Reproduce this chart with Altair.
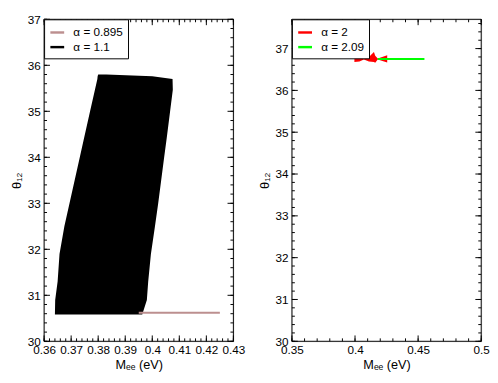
import altair as alt
import pandas as pd

# ---------------- data ----------------
# left panel: black region (alpha = 1.1), given as left/right edge per theta12 level
black_y = [30.58, 30.90, 31.30, 31.90, 32.50, 33.00, 33.50, 34.00, 34.40, 35.00, 35.47, 35.70, 35.76, 35.80]
black_left = [0.3640, 0.3641, 0.3650, 0.3657, 0.3675, 0.3694, 0.3713, 0.3732, 0.3747, 0.3770, 0.3788, 0.3797, 0.3798, 0.3800]
black_right = [0.3963, 0.3980, 0.3985, 0.3995, 0.4010, 0.4022, 0.4033, 0.4044, 0.4053, 0.4066, 0.4076, 0.4075, 0.4000, 0.3830]

# left panel: alpha = 0.895 line
brown_x = [0.395, 0.425]
brown_y = [30.62, 30.62]

# right panel: alpha = 2 (red bow-tie band) and alpha = 2.09 (green line)
red_x = [0.3995, 0.4035, 0.4070, 0.4110, 0.4150, 0.4160, 0.4180, 0.4255]
red_lo = [36.68, 36.69, 36.74, 36.69, 36.68, 36.66, 36.74, 36.67]
red_hi = [36.82, 36.80, 36.76, 36.80, 36.92, 36.83, 36.76, 36.84]
green_x = [0.418, 0.455]
green_y = [36.75, 36.75]

left_labels = ["α = 0.895", "α = 1.1"]
left_colors = ["#bc8f8f", "#000000"]
right_labels = ["α = 2", "α = 2.09"]
right_colors = ["#ff0000", "#00ff00"]

# ticks
left_x_major = [0.36, 0.37, 0.38, 0.39, 0.40, 0.41, 0.42, 0.43]
left_x_minor = [round(0.36 + 0.002 * i, 3) for i in range(36)]
right_x_major = [0.35, 0.40, 0.45, 0.50]
right_x_minor = [round(0.35 + 0.01 * i, 2) for i in range(16)]
y_major = [30, 31, 32, 33, 34, 35, 36, 37]
left_y_minor = [round(30 + 0.2 * i, 1) for i in range(36)]
right_y_minor = [round(30 + 0.2 * i, 1) for i in range(39)]

left_xdom = [0.36, 0.43]
left_ydom = [30, 37]
right_xdom = [0.35, 0.50]
right_ydom = [30, 37.7]

FONT = "Liberation Sans"
W, H = 194, 330
MAJ, MIN = 6, 3
XTITLE = "Mₑₑ (eV)"
YTITLE = "θ₁₂"

COMMON = dict(domain=False, grid=False, ticks=False, labelFlush=False,
              labelOverlap=False, labelFont=FONT, labelFontSize=12,
              labelColor="black", titleFont=FONT, titleFontSize=13,
              titleFontWeight="normal", titleColor="black")


def frame_layer(xs, ys, xdom, ydom):
    d = pd.DataFrame({"v": [0]})
    return alt.Chart(d).mark_rect(filled=False, stroke="black", strokeWidth=1).encode(
        x=alt.XDatum(xdom[0], type="quantitative", scale=xs, axis=None),
        x2=alt.X2Datum(xdom[1]),
        y=alt.YDatum(ydom[0], type="quantitative", scale=ys, axis=None),
        y2=alt.Y2Datum(ydom[1]),
    )


def axes_layer(df, xs, ys, xmaj, ymaj):
    return alt.Chart(df).mark_point(opacity=0).encode(
        x=alt.X("x:Q", scale=xs, axis=alt.Axis(orient="bottom", values=xmaj, format=".2~f",
                                               labelPadding=4, title=XTITLE, titlePadding=3, **COMMON)),
        y=alt.Y("y:Q", scale=ys, axis=alt.Axis(orient="left", values=ymaj, format="d",
                                               labelPadding=4, title=YTITLE, titlePadding=4, **COMMON)),
    )


def tick_layers(xs, ys, xmaj, xmin, ymaj, ymin):
    out = []
    for vals, size in ((xmaj, MAJ), (xmin, MIN)):
        d = pd.DataFrame({"v": vals})
        for a, b in ((H, H - size), (0, size)):
            out.append(alt.Chart(d).mark_rule(color="black", strokeWidth=1).encode(
                x=alt.X("v:Q", scale=xs, axis=None),
                y=alt.value(a), y2=alt.value(b),
            ))
    for vals, size in ((ymaj, MAJ), (ymin, MIN)):
        d = pd.DataFrame({"v": vals})
        for a, b in ((0, size), (W, W - size)):
            out.append(alt.Chart(d).mark_rule(color="black", strokeWidth=1).encode(
                y=alt.Y("v:Q", scale=ys, axis=None),
                x=alt.value(a), x2=alt.value(b),
            ))
    return out


def legend(labels, colors):
    return alt.Color(
        "s:N",
        scale=alt.Scale(domain=labels, range=colors),
        legend=alt.Legend(orient="none", legendX=0, legendY=0, title=None,
                          strokeColor="black", fillColor="white", padding=5,
                          symbolType="stroke", symbolSize=200, symbolStrokeWidth=2.5,
                          labelFont=FONT, labelFontSize=12, labelColor="black",
                          rowPadding=0, labelOffset=8, cornerRadius=0),
    )


# ---------------- left panel ----------------
lxs = alt.Scale(domain=left_xdom, nice=False, zero=False)
lys = alt.Scale(domain=left_ydom, nice=False, zero=False)

black_df = pd.DataFrame({"y": black_y, "left": black_left, "right": black_right})
brown_df = pd.DataFrame({"x": brown_x, "y": brown_y, "s": [left_labels[0]] * 2})

black_area = alt.Chart(black_df).mark_area(orient="horizontal", color="black").encode(
    y=alt.Y("y:Q", scale=lys, axis=None),
    x=alt.X("left:Q", scale=lxs, axis=None),
    x2="right:Q",
)
brown_line = alt.Chart(brown_df).mark_line(strokeWidth=2).encode(
    x=alt.X("x:Q", scale=lxs, axis=None),
    y=alt.Y("y:Q", scale=lys, axis=None),
    color=legend(left_labels, left_colors),
)

left = alt.layer(
    frame_layer(lxs, lys, left_xdom, left_ydom),
    axes_layer(brown_df[["x", "y"]], lxs, lys, left_x_major, y_major),
    black_area, brown_line,
    *tick_layers(lxs, lys, left_x_major, left_x_minor, y_major, left_y_minor),
).resolve_axis(x="independent", y="independent").properties(width=W, height=H)

# ---------------- right panel ----------------
rxs = alt.Scale(domain=right_xdom, nice=False, zero=False)
rys = alt.Scale(domain=right_ydom, nice=False, zero=False)

red_df = pd.DataFrame({"x": red_x, "lo": red_lo, "hi": red_hi})
green_df = pd.DataFrame({"x": green_x, "y": green_y, "s": [right_labels[1]] * 2})

red_area = alt.Chart(red_df).mark_area(color="#ff0000").encode(
    x=alt.X("x:Q", scale=rxs, axis=None),
    y=alt.Y("lo:Q", scale=rys, axis=None),
    y2="hi:Q",
)
green_line = alt.Chart(green_df).mark_line(strokeWidth=2).encode(
    x=alt.X("x:Q", scale=rxs, axis=None),
    y=alt.Y("y:Q", scale=rys, axis=None),
    color=legend(right_labels, right_colors),
)

right = alt.layer(
    frame_layer(rxs, rys, right_xdom, right_ydom),
    axes_layer(green_df[["x", "y"]], rxs, rys, right_x_major, y_major),
    red_area, green_line,
    *tick_layers(rxs, rys, right_x_major, right_x_minor, y_major, right_y_minor),
).resolve_axis(x="independent", y="independent").properties(width=W, height=H)

chart = alt.hconcat(left, right, spacing=60, bounds="flush").resolve_scale(
    color="independent"
).resolve_legend(color="independent").properties(
    padding={"left": 2, "top": 0, "right": 0, "bottom": 0}
).configure_view(stroke="black", strokeWidth=1).configure(font=FONT, background="white")

chart.save("out.html", embed_options={"renderer": "svg", "actions": False})
